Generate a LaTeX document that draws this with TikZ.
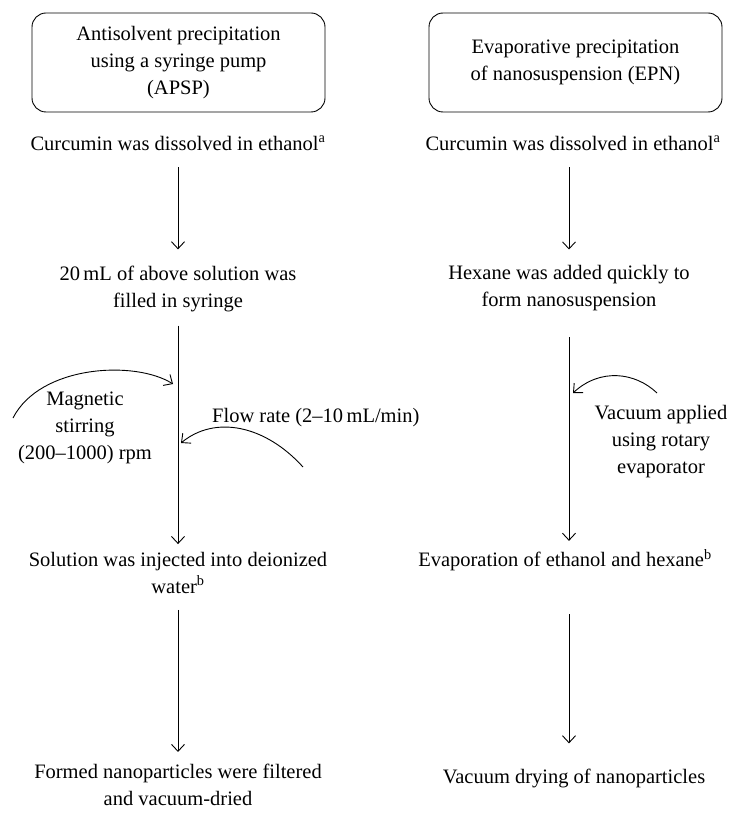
\documentclass[tikz,border=0pt]{standalone}
\usepackage{fontspec}
\setmainfont{Liberation Serif}
\usetikzlibrary{positioning,arrows.meta}

\begin{document}
\begin{tikzpicture}[x=1pt, y=-1pt,
      stage/.style={align=center, inner sep=0pt, font=\fontsize{20.5}{27}\selectfont},
      method/.style={stage, draw, rounded corners=14pt, line width=0.9pt,
                     minimum width=293pt, minimum height=99pt},
      arr/.style={-{Straight Barb[length=7pt, width=13pt]}, line width=0.9pt}]
    \useasboundingbox (0,0) rectangle (733,813);
    \node[method] (apsp) at (178.5,62.5) {Antisolvent precipitation\\ using a syringe pump\\ (APSP)};
    \node[method] (epn) at (575.5,62.5) {Evaporative precipitation\\ of nanosuspension (EPN)};
    \node[stage] (dissA) at (178,143) {Curcumin was dissolved in ethanol\textsuperscript{a}};
    \node[stage] (dissB) at (573,143) {Curcumin was dissolved in ethanol\textsuperscript{a}};
    \node[stage] (syringe) at (178,288.5) {20\,mL of above solution was\\ filled in syringe};
    \node[stage] (hexane) at (569,288.5) {Hexane was added quickly to\\ form nanosuspension};
    \node[stage] (inject) at (178,573) {Solution was injected into deionized\\ water\textsuperscript{b}};
    \node[stage] (evap) at (565,560) {Evaporation of ethanol and hexane\textsuperscript{b}};
    \node[stage] (filter) at (178,785) {Formed nanoparticles were filtered\\ and vacuum-dried};
    \node[stage] (dry) at (574,778) {Vacuum drying of nanoparticles};
    \node[stage] (stir) at (85,428) {Magnetic\\ stirring\\ (200--1000) rpm};
    \node[stage, anchor=west] (flow) at (212,418) {Flow rate (2--10\,mL/min)};
    \node[stage] (vac) at (661,442) {Vacuum applied\\ using rotary\\ evaporator};
    \draw[arr, shorten <=17pt, shorten >=16pt] (dissA) -- (syringe);
    \draw[arr, shorten <=14pt, shorten >=8pt] (syringe) -- (inject);
    \draw[arr, shorten <=16pt, shorten >=12pt] (inject) -- (filter);
    \draw[arr, shorten <=17pt, shorten >=16pt] (dissB.south -| hexane) -- (hexane.north);
    \draw[arr, shorten <=26pt, shorten >=8pt] (hexane.south) -- (hexane |- evap.north);
    \draw[arr, shorten <=43pt, shorten >=25pt] (evap.south -| hexane) -- (dry.north -| hexane);
    \coordinate (stirA) at (13,418);
    \coordinate (stirB) at (173,384);
    \coordinate (flowA) at (303,467);
    \coordinate (flowB) at (181,443);
    \coordinate (vacA) at (657,393);
    \coordinate (vacB) at (573,393);
    \draw[arr] (stirA) .. controls (40,365) and (135,360) .. (stirB);
    \draw[arr] (flowA) .. controls (265,425) and (215,415) .. (flowB);
    \draw[arr] (vacA) .. controls (635,372) and (600,368) .. (vacB);
  \end{tikzpicture}
\end{document}
